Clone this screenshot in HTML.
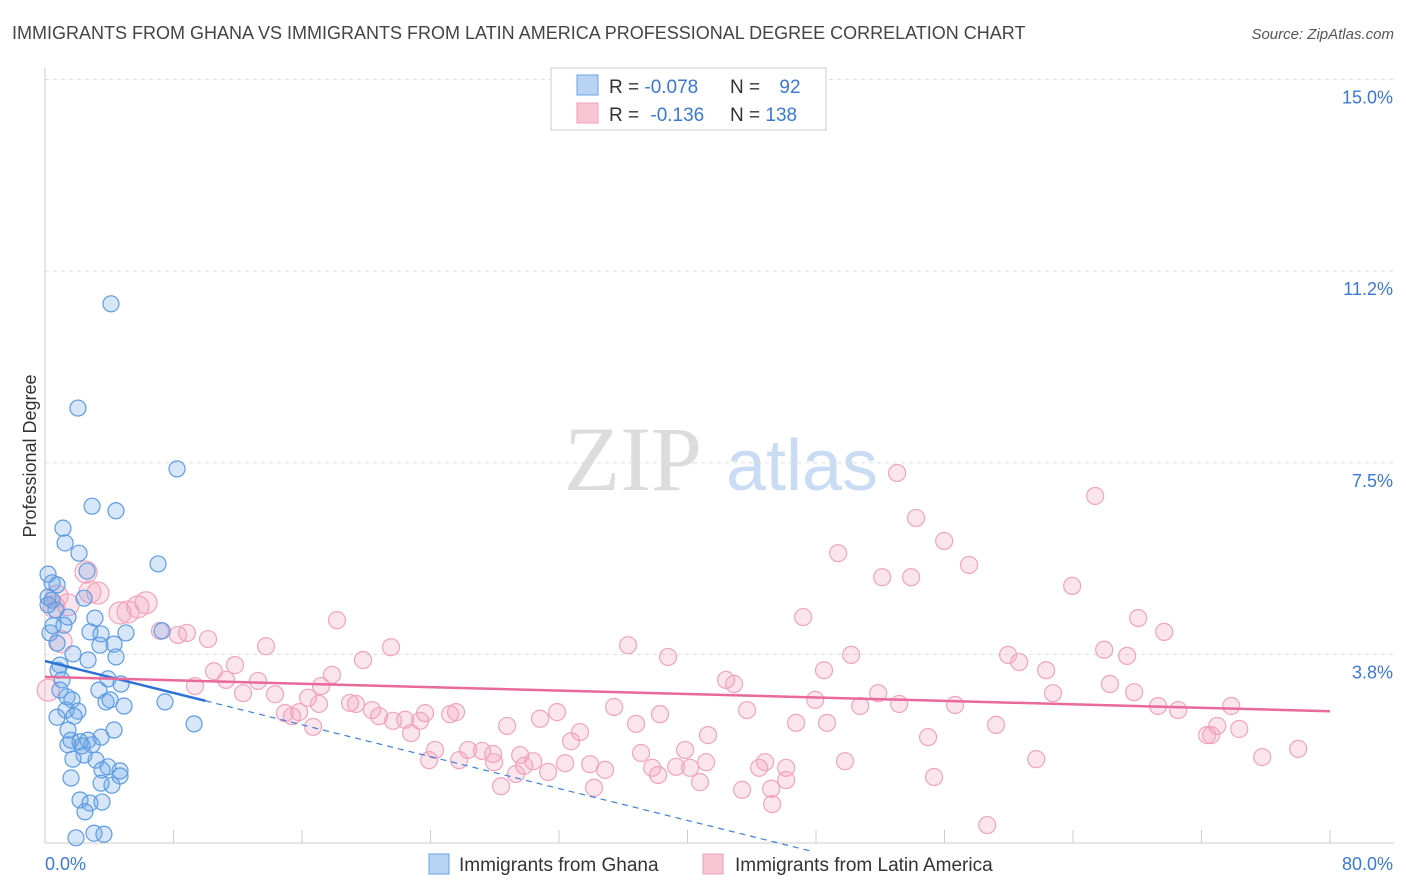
<!DOCTYPE html>
<html><head><meta charset="utf-8">
<style>
body{margin:0;background:#fff;font-family:"Liberation Sans",sans-serif;}
svg{display:block}
</style></head>
<body>
<svg id="chart" width="1406" height="892" viewBox="0 0 1406 892">
  <text x="12" y="39" font-size="18" fill="#444">IMMIGRANTS FROM GHANA VS IMMIGRANTS FROM LATIN AMERICA PROFESSIONAL DEGREE CORRELATION CHART</text>
  <text x="1394" y="39" font-size="15" fill="#555" font-style="italic" text-anchor="end">Source: ZipAtlas.com</text>
  <text x="36" y="456" font-size="18" fill="#333" text-anchor="middle" transform="rotate(-90 36 456)">Professional Degree</text>
  <g>
    <text x="633" y="490" font-size="92" fill="#dcdcdc" font-family="Liberation Serif, serif" text-anchor="middle">ZIP</text>
    <text x="802" y="490" font-size="72" fill="#c9dcf3" text-anchor="middle">atlas</text>
  </g>
  <g id="grid"></g>
  <g id="axes"></g>
  <g id="marks"></g>
  <g>
    <rect x="551" y="68" width="275" height="62" fill="#fff" stroke="#ccc"/>
    <rect x="577" y="75" width="21" height="20" fill="#b9d3f3" stroke="#6aa3e4"/>
    <rect x="577" y="103" width="21" height="20" fill="#f8c5d5" stroke="#ee9fb9"/>
    <text x="609" y="93" font-size="19" fill="#333">R = <tspan fill="#3a78d4">-0.078</tspan></text>
    <text x="730" y="93" font-size="19" fill="#333">N = <tspan fill="#3a78d4" dx="14">92</tspan></text>
    <text x="609" y="121" font-size="19" fill="#333">R = <tspan fill="#3a78d4" dx="6">-0.136</tspan></text>
    <text x="730" y="121" font-size="19" fill="#333">N = <tspan fill="#3a78d4">138</tspan></text>
  </g>
  <g>
    <rect x="429" y="854" width="20" height="20" fill="#b9d3f3" stroke="#6aa3e4"/>
    <text x="459" y="871" font-size="19" fill="#333">Immigrants from Ghana</text>
    <rect x="703" y="854" width="20" height="20" fill="#f8c5d5" stroke="#ee9fb9"/>
    <text x="735" y="871" font-size="19" fill="#333">Immigrants from Latin America</text>
  </g>
</svg>
<script>
const ghanaX=[4.11,2.05,8.22,2.93,4.42,1.12,1.25,2.12,7.04,0.19,0.44,0.75,2.62,0.19,0.44,2.43,0.68,0.19,1.43,3.11,0.5,1.18,0.31,2.8,3.49,5.04,7.29,0.75,1.74,3.42,4.3,2.68,4.42,0.93,0.81,3.92,1.06,4.73,3.36,0.93,1.37,1.68,3.8,4.05,7.47,4.92,1.31,2.05,1.81,0.75,9.28,4.3,1.43,2.68,2.18,1.62,3.49,2.93,2.3,1.43,2.43,3.18,1.74,3.92,4.67,3.55,4.67,1.62,4.17,3.49,2.18,2.8,3.55,2.49,1.93,3.05,3.67];
const ghanaY=[10.61,8.57,7.38,6.65,6.56,6.22,5.93,5.73,5.52,5.32,5.15,5.11,5.38,4.87,4.81,4.85,4.62,4.72,4.48,4.46,4.31,4.32,4.17,4.19,4.15,4.17,4.21,3.97,3.76,3.93,3.95,3.64,3.70,3.54,3.44,3.27,3.25,3.17,3.05,3.05,2.92,2.86,2.82,2.86,2.82,2.74,2.66,2.64,2.54,2.52,2.39,2.27,2.27,2.07,2.04,2.07,2.13,1.98,1.96,1.98,1.78,1.68,1.70,1.55,1.47,1.49,1.37,1.33,1.19,1.23,0.90,0.84,0.86,0.67,0.16,0.25,0.23];
const latinX=[53.05,65.38,54.23,55.98,49.38,57.53,52.12,53.92,63.95,2.55,2.8,0.75,3.3,1.43,0.56,5.79,6.29,4.67,5.17,47.2,68.06,7.16,8.28,8.84,10.15,69.68,18.18,13.76,21.54,36.3,38.79,50.19,59.96,60.65,65.94,67.37,62.33,19.8,11.83,10.52,17.87,48.5,42.4,42.9,13.26,11.27,17.19,9.34,66.3,62.76,67.81,12.33,14.32,16.38,51.87,53.18,56.66,50.75,47.95,18.99,17.06,14.94,15.38,15.82,19.36,20.36,20.8,25.22,23.66,25.59,35.43,31.88,38.29,43.71,69.3,70.55,73.85,16.69,21.67,22.42,23.35,22.79,28.77,30.82,33.31,36.8,46.76,48.69,59.21,72.98,72.6,74.35,72.35,32.75,41.28,54.98,24.28,26.34,27.21,27.9,25.78,23.91,27.96,29.58,29.83,31.32,30.39,32.38,33.94,34.87,37.8,39.29,39.85,37.11,40.16,41.16,44.83,46.14,44.46,49.81,61.71,75.78,78.02,29.33,28.39,34.18,38.17,40.78,43.4,45.21,46.14,55.35,45.27,58.66,0.2,1.0];
const latinY=[7.30,6.85,6.42,5.97,5.73,5.50,5.26,5.26,5.09,5.36,4.97,4.89,4.95,4.72,4.68,4.68,4.76,4.56,4.58,4.48,4.46,4.21,4.13,4.17,4.05,4.19,4.42,3.91,3.89,3.93,3.70,3.74,3.74,3.60,3.84,3.72,3.44,3.64,3.54,3.42,3.35,3.44,3.25,3.17,3.23,3.25,3.13,3.13,3.17,2.99,3.01,2.99,2.97,2.90,2.99,2.78,2.76,2.74,2.86,2.80,2.78,2.60,2.54,2.62,2.78,2.66,2.54,2.58,2.60,2.62,2.72,2.62,2.58,2.66,2.74,2.66,2.74,2.33,2.45,2.47,2.45,2.21,2.35,2.49,2.23,2.39,2.41,2.41,2.37,2.35,2.17,2.29,2.17,2.05,2.17,2.13,1.88,1.88,1.86,1.80,1.68,1.68,1.64,1.78,1.57,1.45,1.66,1.62,1.60,1.49,1.53,1.55,1.88,1.82,1.53,1.64,1.64,1.53,1.53,1.66,1.70,1.74,1.90,1.41,1.17,1.14,1.39,1.25,1.10,1.12,1.29,1.35,0.82,0.41,3.05,4.0];
const yTicks=[3.75,7.5,11.25,15];
const yTickLabels=["3.8%","7.5%","11.2%","15.0%"];
const xTicks=[0,8,16,24,32,40,48,56,64,72,80];
const ghanaTrend=[3.62,-0.078]; // intercept, slope per %
const ghanaSolidEnd=10;
const ghanaDashEnd=47.6;
const latinTrend=[3.31,-0.0084];

const NS="http://www.w3.org/2000/svg";
const xS=v=>45+v*(1285/80);
const yS=v=>846-v*51.1;
function mk(tag,attrs,parent){const e=document.createElementNS(NS,tag);for(const k in attrs)e.setAttribute(k,attrs[k]);parent.appendChild(e);return e;}
const grid=document.getElementById('grid'),axes=document.getElementById('axes'),marks=document.getElementById('marks');
yTicks.forEach((t,i)=>{
  const l=mk('line',{x1:45,x2:1394,y1:yS(t),y2:yS(t),stroke:'#ddd','stroke-dasharray':'4,4'},grid);
  
  
  const tx=mk('text',{x:1393,y:yS(t)+24,'font-size':18,fill:'#3a78d4','text-anchor':'end'},axes);
  tx.textContent=yTickLabels[i];
  
  
});
const ax=mk('line',{x1:45,x2:1394,y1:843,y2:843,stroke:'#ccc'},axes);


const ay=mk('line',{x1:45,x2:45,y1:68,y2:843,stroke:'#ccc'},axes);


xTicks.forEach(t=>{
  const l=mk('line',{x1:xS(t),x2:xS(t),y1:830,y2:843,stroke:'#ccc'},axes);
  
  
});
const xl0=mk('text',{x:45,y:870,'font-size':18,fill:'#3a78d4'},axes);xl0.textContent='0.0%';


const xl1=mk('text',{x:1393,y:870,'font-size':18,fill:'#3a78d4','text-anchor':'end'},axes);xl1.textContent='80.0%';


latinX.forEach((x,i)=>{
  const c=mk('circle',{cx:xS(x),cy:yS(latinY[i]),r:(x<7?11:8.5),fill:'rgba(242,160,188,0.28)',stroke:'#f0a3bd','stroke-width':1.2},marks);
  
  
});
ghanaX.forEach((x,i)=>{
  const c=mk('circle',{cx:xS(x),cy:yS(ghanaY[i]),r:8,fill:'rgba(110,165,230,0.28)',stroke:'#5d9ce2','stroke-width':1.2},marks);
  
  
});
const gy=x=>ghanaTrend[0]+ghanaTrend[1]*x, ly=x=>latinTrend[0]+latinTrend[1]*x;
const gd=mk('line',{x1:xS(ghanaSolidEnd),y1:yS(gy(ghanaSolidEnd)),x2:xS(ghanaDashEnd),y2:yS(gy(ghanaDashEnd)),stroke:'#3f7fd8','stroke-width':1.2,'stroke-dasharray':'6,5'},marks);


const gs=mk('line',{x1:xS(0),y1:yS(gy(0)),x2:xS(ghanaSolidEnd),y2:yS(gy(ghanaSolidEnd)),stroke:'#2f72d6','stroke-width':2.5},marks);


const lt=mk('line',{x1:xS(0),y1:yS(ly(0)),x2:xS(80),y2:yS(ly(80)),stroke:'#e8699a','stroke-width':2.5},marks);


</script>
</body></html>
